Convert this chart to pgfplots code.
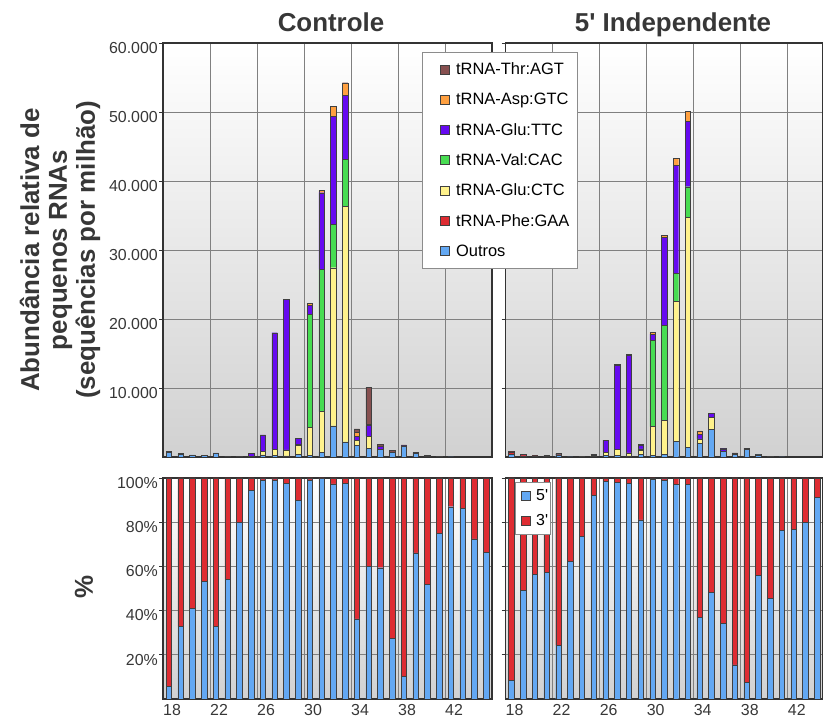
\documentclass[border=0pt]{standalone}
\usepackage{fontspec}
\setmainfont{Liberation Sans}
\newfontfamily\arial{Liberation Sans}
\usepackage{pgfplots}
\pgfplotsset{compat=1.18}
\usepackage{pgfplotstable}

\definecolor{cO}{RGB}{99,168,243}
\definecolor{cP}{RGB}{222,44,50}
\definecolor{cC}{RGB}{255,242,140}
\definecolor{cV}{RGB}{72,220,82}
\definecolor{cT}{RGB}{102,10,240}
\definecolor{cA}{RGB}{255,160,64}
\definecolor{cH}{RGB}{135,80,80}
\definecolor{txt}{RGB}{55,55,55}

% Controle: Outros, Phe:GAA, Glu:CTC, Val:CAC, Glu:TTC, Asp:GTC, Thr:AGT
\pgfplotstableread{
x O P C V T A H
18 630 100 0 0 0 0 90
19 340 0 0 140 0 0 0
20 290 0 0 0 0 0 0
21 240 0 0 0 0 0 0
22 580 0 0 0 0 0 0
23 60 0 0 0 0 0 0
24 140 0 0 0 0 0 0
25 100 0 0 0 380 0 0
26 290 0 480 50 2370 0 0
27 250 0 860 0 16900 0 0
28 150 0 770 100 21830 0 0
29 430 0 1210 200 820 0 50
30 250 0 4050 16420 1210 340 0
31 700 0 5870 20630 11100 300 0
32 4500 0 22930 6330 15640 1370 0
33 2200 0 34170 6760 9320 1690 100
34 1640 0 730 0 670 580 440
35 1260 0 1780 0 1500 190 5360
36 1110 0 0 0 390 0 290
37 720 0 0 0 0 0 290
38 1500 0 0 0 100 0 140
39 480 0 0 0 0 0 150
40 100 0 0 0 0 0 140
41 60 0 0 0 0 0 0
42 30 0 0 0 0 0 0
43 0 0 0 0 0 0 0
44 0 0 0 0 0 0 0
45 0 0 0 0 0 0 0
}\ctrl

% 5' Independente
\pgfplotstableread{
x O P C V T A H
18 390 340 0 0 0 0 90
19 150 200 0 0 0 0 80
20 50 100 0 0 0 0 90
21 80 60 0 0 0 0 100
22 300 0 0 0 0 0 180
23 30 0 0 0 0 0 0
24 60 0 0 0 0 0 80
25 60 0 200 0 0 0 130
26 240 0 480 0 1740 0 0
27 190 0 920 0 12200 0 100
28 150 0 430 0 14200 0 100
29 340 0 670 150 530 0 100
30 250 0 4150 12550 870 240 0
31 430 0 4930 13670 12800 340 0
32 2220 0 20380 4010 15700 970 0
33 1400 0 33280 4490 9520 1450 0
34 1980 0 600 50 650 490 0
35 4010 0 1740 0 530 0 50
36 770 0 0 0 390 0 100
37 390 0 0 0 0 0 190
38 1110 0 0 0 0 0 150
39 290 0 0 0 0 0 140
40 80 0 0 0 0 0 30
41 20 0 0 0 0 0 0
42 0 0 0 0 0 0 0
43 0 0 0 0 0 0 0
44 0 0 0 0 0 0 0
}\indep

\pgfplotstableread{
x F T
18 5.7 94.3
19 32.9 67.1
20 40.9 59.1
21 53.2 46.8
22 32.9 67.1
23 54.1 45.9
24 79.9 20.1
25 94.4 5.6
26 99.2 0.8
27 99.2 0.8
28 97.7 2.3
29 89.9 10.1
30 99.2 0.8
31 99.7 0.3
32 97.3 2.7
33 97.6 2.4
34 36.3 63.7
35 60.0 40.0
36 59.4 40.6
37 27.3 72.7
38 10.3 89.7
39 66.1 33.9
40 52.0 48.0
41 74.8 25.2
42 87.0 13.0
43 86.4 13.6
44 72.5 27.5
45 66.5 33.5
}\ctrlpct

\pgfplotstableread{
x F T
18 8.4 91.6
19 49.2 50.8
20 56.4 43.6
21 57.3 42.7
22 24.3 75.7
23 62.3 37.7
24 73.5 26.5
25 92.3 7.7
26 98.6 1.4
27 97.9 2.1
28 97.6 2.4
29 81.0 19.0
30 99.4 0.6
31 99.2 0.8
32 97.1 2.9
33 97.1 2.9
34 37.0 63.0
35 48.3 51.7
36 34.2 65.8
37 15.4 84.6
38 7.5 92.5
39 56.0 44.0
40 45.4 54.6
41 76.3 23.7
42 76.9 23.1
43 79.9 20.1
44 91.4 8.6
}\indeppct

\pgfplotsset{
  sqlegend/.style={legend image code/.code={%
    \path[draw=none,fill=none] (-12bp,0bp) rectangle (14bp,0bp);
    \draw[##1,/tikz/.cd,draw=black!75,line width=0.5bp] (0bp,-4.5bp) rectangle (9bp,4.5bp);}},
  smalllegend/.style={legend image code/.code={%
    \path[draw=none,fill=none] (-6bp,0bp) rectangle (13bp,0bp);
    \draw[##1,/tikz/.cd,draw=black!75,line width=0.5bp] (0bp,-4.5bp) rectangle (9bp,4.5bp);}},
  panel/.style={
    scale only axis, ybar stacked, bar width=0.46, xmin=17.5,
    enlarge x limits=false, enlarge y limits=false, ymin=0,
    axis line style={draw=black!80, line width=1.1bp},
    axis background/.style={shade, top color=white, bottom color=black!18},
    xmajorgrids, ymajorgrids,
    major grid style={draw=black!50, line width=0.7bp},
    tick align=outside, ytick pos=left, xtick pos=bottom, major tick length=4bp,
    xtick style={draw=none},
    ytick style={draw=black!80, line width=0.8bp},
    ticklabel style={font=\fontsize{16}{19}\selectfont, text=txt},
    yticklabel style={anchor=north east, inner sep=0pt, xshift=-1bp, yshift=1bp},
    xticklabel style={anchor=north west, inner sep=0pt, yshift=-1.5bp},
    /pgf/number format/assume math mode=true,
    every axis plot/.append style={draw=black!75, line width=0.4bp},
  },
  toppanel/.style={panel, height=414bp, ymax=60000,
    xtick={21.5,25.5,29.5,33.5,37.5,41.5}, xticklabels={},
    ytick={10000,20000,30000,40000,50000,60000}, scaled y ticks=false,
    every axis plot post/.append style={sqlegend}},
  botpanel/.style={panel, height=221bp, ymax=100,
    xtick={17.5,21.5,25.5,29.5,33.5,37.5,41.5}, xticklabels={18,22,26,30,34,38,42},
    ytick={20,40,60,80,100},
    every axis plot post/.append style={smalllegend}},
}

\begin{document}
\begin{tikzpicture}
\useasboundingbox (0,0) rectangle (823bp,718bp);

% top right (drawn first so that the legend of the left panel lies on top)
\begin{axis}[toppanel, at={(505.5bp,675bp)}, anchor=north west, width=317.5bp, xmax=44.5,
  yticklabels={}]
\addplot[fill=cO] table[x=x,y=O]{\indep};
\addplot[fill=cP] table[x=x,y=P]{\indep};
\addplot[fill=cC] table[x=x,y=C]{\indep};
\addplot[fill=cV] table[x=x,y=V]{\indep};
\addplot[fill=cT] table[x=x,y=T]{\indep};
\addplot[fill=cA] table[x=x,y=A]{\indep};
\addplot[fill=cH] table[x=x,y=H]{\indep};
\end{axis}

% top left
\begin{axis}[toppanel, at={(163bp,675bp)}, anchor=north west, width=329bp, xmax=45.5,
  yticklabels={10.000,20.000,30.000,40.000,50.000,60.000},
  reverse legend,
  legend style={at={(0.787,0.978)}, anchor=north west, draw=black!45, fill=white,
    font=\fontsize{16.5}{19}\selectfont, inner xsep=6bp, inner ysep=8.5bp, row sep=13bp,
    cells={anchor=west}}]
\addplot[fill=cO] table[x=x,y=O]{\ctrl};
\addplot[fill=cP] table[x=x,y=P]{\ctrl};
\addplot[fill=cC] table[x=x,y=C]{\ctrl};
\addplot[fill=cV] table[x=x,y=V]{\ctrl};
\addplot[fill=cT] table[x=x,y=T]{\ctrl};
\addplot[fill=cA] table[x=x,y=A]{\ctrl};
\addplot[fill=cH] table[x=x,y=H]{\ctrl};
\legend{Outros,tRNA-Phe:GAA,tRNA-Glu:CTC,tRNA-Val:CAC,tRNA-Glu:TTC,tRNA-Asp:GTC,tRNA-Thr:AGT}
\end{axis}

% bottom left
\begin{axis}[botpanel, at={(163bp,240bp)}, anchor=north west, width=329bp, xmax=45.5,
  yticklabels={20\%,40\%,60\%,80\%,100\%}]
\addplot[fill=cO] table[x=x,y=F]{\ctrlpct};
\addplot[fill=cP] table[x=x,y=T]{\ctrlpct};
\end{axis}

% bottom right
\begin{axis}[botpanel, at={(505.5bp,240bp)}, anchor=north west, width=317.5bp, xmax=44.5,
  yticklabels={},
  legend style={at={(0.03,0.982)}, anchor=north west, draw=black!45, fill=white,
    font=\fontsize{16}{19}\selectfont, inner xsep=0bp, inner ysep=5bp, row sep=9bp,
    cells={anchor=west}}]
\addplot[fill=cO] table[x=x,y=F]{\indeppct};
\addplot[fill=cP] table[x=x,y=T]{\indeppct};
\legend{{5{\arial'}},{3{\arial'}}}
\end{axis}

% titles and labels
\node[font=\arial\bfseries\fontsize{26}{30}\selectfont, text=txt, anchor=base] at (331bp,686bp) {Controle};
\node[font=\arial\bfseries\fontsize{26}{30}\selectfont, text=txt, anchor=base] at (673bp,686bp) {5' Independente};
\node[rotate=90, align=center, font=\arial\bfseries\fontsize{26}{28}\selectfont, text=txt] at (60bp,468bp)
  {Abundância relativa de\\pequenos RNAs\\(sequências por milhão)};
\node[rotate=90, font=\arial\bfseries\fontsize{26}{28}\selectfont, text=txt] at (84bp,131bp) {\%};
\end{tikzpicture}
\end{document}
